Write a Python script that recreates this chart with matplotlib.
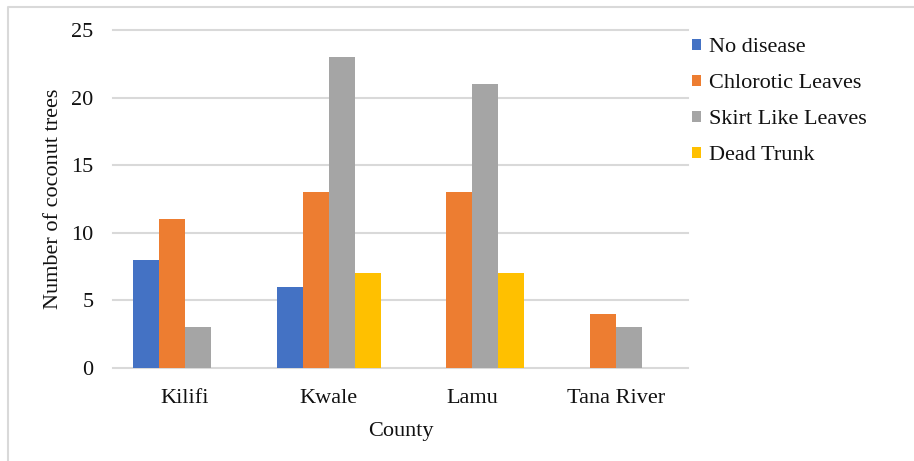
import matplotlib
matplotlib.use("Agg")
import matplotlib.pyplot as plt
import numpy as np
from matplotlib.lines import Line2D

plt.rcParams['font.family'] = ['Liberation Serif', 'DejaVu Serif']

counties = ["Kilifi", "Kwale", "Lamu", "Tana River"]
series_names = ["No disease", "Chlorotic Leaves", "Skirt Like Leaves", "Dead Trunk"]
no_disease = [8, 6, 0, 0]
chlorotic = [11, 13, 13, 4]
skirt = [3, 23, 21, 3]
dead_trunk = [0, 7, 7, 0]
colors = ["#4472C4", "#ED7D31", "#A5A5A5", "#FFC000"]
yticks = [0, 5, 10, 15, 20, 25]

W, H = 914, 461
fig = plt.figure(figsize=(W / 100, H / 100), dpi=100)
ax = fig.add_axes([113 / W, 1 - 368 / H, (688 - 113) / W, (368 - 30) / H])

x = np.arange(len(counties))
bw = 0.181
data = [no_disease, chlorotic, skirt, dead_trunk]
for i, (vals, name, c) in enumerate(zip(data, series_names, colors)):
    ax.bar(x + (i - 1.5) * bw, vals, width=bw, color=c, label=name, zorder=3)

ax.set_xlim(-0.5, 3.5)
ax.set_ylim(0, 25)
ax.set_yticks(yticks)
ax.set_xticks(x)
ax.set_xticklabels(counties)
for s in ax.spines.values():
    s.set_visible(False)
ax.yaxis.grid(True, color="#d9d9d9", linewidth=1.5, zorder=0)
for gl in ax.get_ygridlines():
    gl.set_clip_on(False)
ax.tick_params(axis='both', length=0, labelsize=16, colors="#111111")
ax.tick_params(axis='y', pad=14)
ax.tick_params(axis='x', pad=15)
ax.set_xlabel("County", fontsize=16, color="#111111", labelpad=10)
ax.set_ylabel("Number of coconut trees", fontsize=16, color="#111111", labelpad=6)

fig.legend(loc="upper left", bbox_to_anchor=(688 / W, 1 - 34 / H), frameon=False,
           fontsize=16, handlelength=0.38, handleheight=0.38, handletextpad=0.35,
           labelspacing=0.76, borderaxespad=0, borderpad=0.2, labelcolor="#111111")

fig.add_artist(Line2D([8 / W, 8 / W, 1], [0, 1 - 7 / H, 1 - 7 / H],
                      transform=fig.transFigure, color="#d9d9d9", linewidth=1.5))

fig.savefig("out.png", dpi=100)
